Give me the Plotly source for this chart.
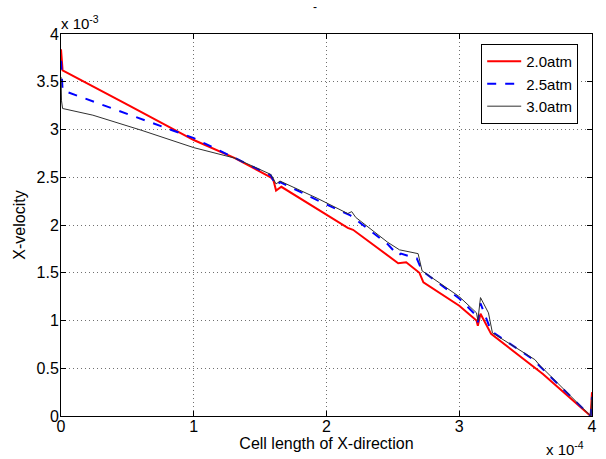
import plotly.graph_objects as go

# Values in scaled units: x in 1e-4, y in 1e-3
x_red = [0, 0.012, 0.5, 1.0, 1.31, 1.58, 1.60, 1.62, 1.66, 2.0, 2.16, 2.20, 2.46, 2.54, 2.60, 2.70, 2.73, 3.0, 3.13, 3.14, 3.16, 3.24, 3.63, 3.99, 4.0]
y_red = [3.84, 3.62, 3.26, 2.89, 2.70, 2.50, 2.47, 2.36, 2.40, 2.11, 1.97, 1.95, 1.68, 1.60, 1.61, 1.50, 1.40, 1.155, 1.0, 0.945, 1.07, 0.86, 0.44, 0.0, 0.25]

x_blue = [0, 0.004, 0.012, 1.0, 1.31, 1.58, 1.62, 1.65, 1.93, 2.18, 2.46, 2.54, 2.56, 2.68, 2.72, 3.0, 3.13, 3.14, 3.16, 3.24, 3.57, 3.60, 3.99, 4.0]
y_blue = [3.72, 3.55, 3.41, 2.91, 2.70, 2.52, 2.41, 2.45, 2.26, 2.10, 1.80, 1.68, 1.70, 1.65, 1.52, 1.23, 1.05, 0.98, 1.18, 0.89, 0.58, 0.53, 0.0, 0.2]

x_black = [0, 0.004, 0.012, 0.24, 0.61, 1.0, 1.31, 1.58, 1.62, 1.65, 1.93, 2.16, 2.19, 2.22, 2.46, 2.55, 2.69, 2.72, 3.0, 3.13, 3.14, 3.16, 3.22, 3.25, 3.57, 3.60, 3.99, 4.0]
y_black = [3.55, 3.30, 3.22, 3.15, 2.99, 2.81, 2.70, 2.53, 2.43, 2.46, 2.28, 2.12, 2.14, 2.08, 1.82, 1.74, 1.70, 1.52, 1.25, 1.08, 1.00, 1.24, 1.08, 0.87, 0.59, 0.54, 0.0, 0.2]

series_names = ["2.0atm", "2.5atm", "3.0atm"]
x_ticks = [0, 1, 2, 3, 4]
x_ticklabels = ["0", "1", "2", "3", "4"]
y_ticks = [0, 0.5, 1, 1.5, 2, 2.5, 3, 3.5, 4]
y_ticklabels = ["0", "0.5", "1", "1.5", "2", "2.5", "3", "3.5", "4"]

fig = go.Figure()
fig.add_trace(go.Scatter(x=x_red, y=y_red, mode="lines", name=series_names[0],
                         line=dict(color="#ff0000", width=2)))
fig.add_trace(go.Scatter(x=x_blue, y=y_blue, mode="lines", name=series_names[1],
                         line=dict(color="#0000ff", width=2, dash="dash")))
fig.add_trace(go.Scatter(x=x_black, y=y_black, mode="lines", name=series_names[2],
                         line=dict(color="#303030", width=1)))

font_family = "Liberation Sans, Arial, sans-serif"
axis_common = dict(showline=True, linecolor="black", linewidth=1, mirror="ticks",
                   ticks="inside", ticklen=5, tickcolor="black",
                   showgrid=True, gridcolor="#707070", griddash="1px,3px", gridwidth=1,
                   zeroline=False, ticklabeloverflow="allow",
                   tickfont=dict(size=16, color="black", family=font_family))

fig.update_xaxes(range=[0, 4], tickvals=x_ticks, ticktext=x_ticklabels,
                 ticklabelstandoff=-4,
                 title=dict(text="Cell length of X-direction", font=dict(size=16, color="black", family=font_family), standoff=2),
                 **axis_common)
fig.update_yaxes(range=[0, 4], tickvals=y_ticks, ticktext=y_ticklabels,
                 ticklabelstandoff=-2,
                 title=dict(text="X-velocity", font=dict(size=16, color="black", family=font_family), standoff=6),
                 **axis_common)

fig.update_layout(
    width=606, height=459,
    margin=dict(l=61, r=9, t=34, b=43),
    paper_bgcolor="white", plot_bgcolor="white",
    font=dict(family=font_family, color="black"),
    showlegend=True,
    legend=dict(x=0.974, y=0.974, xanchor="right", yanchor="top",
                bgcolor="white", bordercolor="black", borderwidth=1,
                font=dict(size=15, family=font_family, color="black"),
                tracegroupgap=0, itemwidth=34),
    annotations=[
        dict(text="x 10<sup>-3</sup>", xref="paper", yref="paper", x=0.0, y=1.0,
             xanchor="left", yanchor="bottom", showarrow=False,
             font=dict(size=15, family=font_family, color="black"), yshift=0, xshift=-2),
        dict(text="x 10<sup>-4</sup>", xref="paper", yref="paper", x=1.0, y=0.0,
             xanchor="right", yanchor="middle", showarrow=False,
             font=dict(size=15, family=font_family, color="black"), yshift=-32, xshift=-6),
        dict(text="-", xref="paper", yref="paper", x=0.478, y=1.0,
             xanchor="center", yanchor="bottom", showarrow=False,
             font=dict(size=12, family=font_family, color="black"), yshift=18),
    ],
)

fig.write_html("out.html", config={"displayModeBar": False},
               post_script="document.body.style.margin='0';")
